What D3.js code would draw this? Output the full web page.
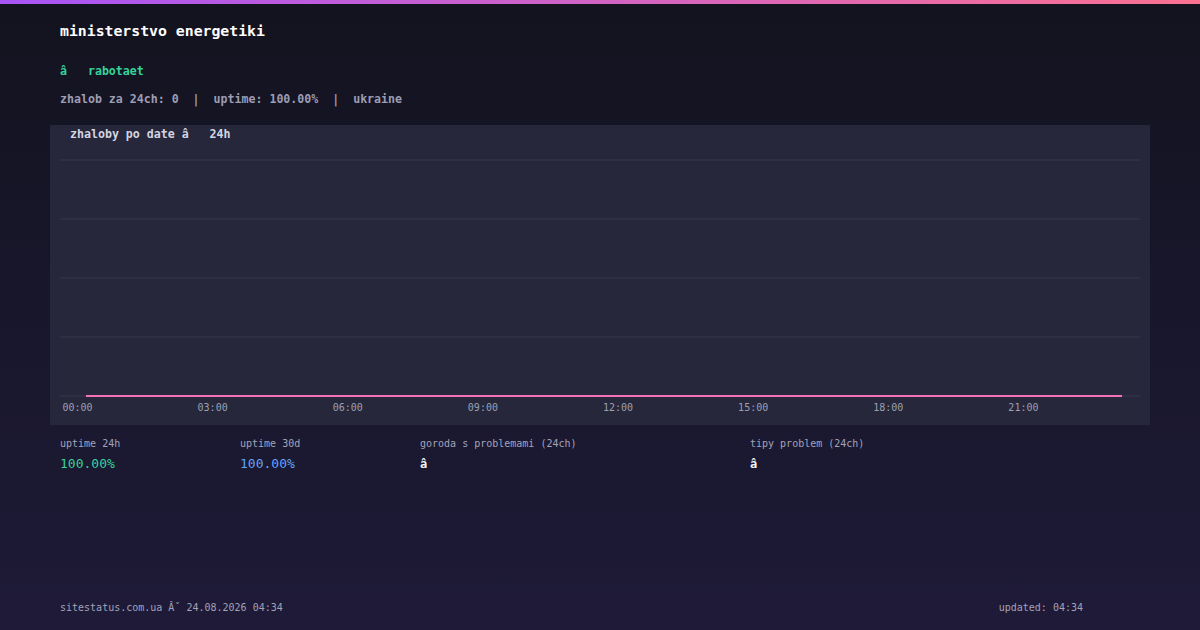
<!DOCTYPE html>
<html>
<head>
<meta charset="utf-8">
<script src="https://cdn.jsdelivr.net/npm/d3@7"></script>
<style>
  html, body { margin: 0; padding: 0; }
  body { width: 1200px; height: 630px; overflow: hidden; }
  text { font-family: "DejaVu Sans Mono", "Liberation Mono", monospace; white-space: pre; }
</style>
</head>
<body>
<svg id="chart" width="1200" height="630"></svg>
<script>
// complaints per hour, last 24h
var hours = ["00:00","01:00","02:00","03:00","04:00","05:00","06:00","07:00",
  "08:00","09:00","10:00","11:00","12:00","13:00","14:00","15:00",
  "16:00","17:00","18:00","19:00","20:00","21:00","22:00","23:00"];
var complaints = [0,0,0,0,0,0,0,0,0,0,0,0,0,0,0,0,0,0,0,0,0,0,0,0];
var yTicks = [0, 1, 2, 3, 4];

var stats = [
  {label: "uptime 24h", value: "100.00%", color: "#34d399", size: 13, weight: "normal", x: 60},
  {label: "uptime 30d", value: "100.00%", color: "#60a5fa", size: 13, weight: "normal", x: 240},
  {label: "goroda s problemami (24ch)", value: "â", color: "#f3f4f6", size: 12, weight: "bold", x: 420},
  {label: "tipy problem (24ch)", value: "â", color: "#f3f4f6", size: 12, weight: "bold", x: 750}
];

var svg = d3.select("#chart");
var defs = svg.append("defs");

var bg = defs.append("linearGradient").attr("id", "bg")
  .attr("x1", 0).attr("x2", 0).attr("y1", 0).attr("y2", 1);
bg.append("stop").attr("offset", "0%").attr("stop-color", "#13131f");
bg.append("stop").attr("offset", "100%").attr("stop-color", "#1e1a38");

var bar = defs.append("linearGradient").attr("id", "bar")
  .attr("x1", 0).attr("x2", 1).attr("y1", 0).attr("y2", 0);
bar.append("stop").attr("offset", "0%").attr("stop-color", "#a855f7");
bar.append("stop").attr("offset", "100%").attr("stop-color", "#fb7190");

svg.append("rect").attr("width", 1200).attr("height", 630).attr("fill", "url(#bg)");
svg.append("rect").attr("width", 1200).attr("height", 4).attr("fill", "url(#bar)");

// header
svg.append("text").attr("x", 60).attr("y", 36)
  .attr("fill", "#ffffff").attr("font-size", 14.8).attr("font-weight", "bold")
  .text("ministerstvo energetiki");
svg.append("text").attr("x", 60).attr("y", 75)
  .attr("fill", "#34d399").attr("font-size", 11.6).attr("font-weight", "bold")
  .text("â   rabotaet");
svg.append("text").attr("x", 60).attr("y", 103)
  .attr("fill", "#9d9db3").attr("font-size", 11.6).attr("font-weight", "bold")
  .text("zhalob za 24ch: 0  |  uptime: 100.00%  |  ukraine");

// chart panel
svg.append("rect").attr("x", 50).attr("y", 125).attr("width", 1100).attr("height", 300)
  .attr("fill", "#26273a");
svg.append("text").attr("x", 70).attr("y", 138)
  .attr("fill", "#d4d4e2").attr("font-size", 11.6).attr("font-weight", "bold")
  .text("zhaloby po date â   24h");

var x = d3.scalePoint().domain(hours).range([86, 1122]);
var y = d3.scaleLinear().domain([0, 4]).range([396, 160]);

var g = svg.append("g");

g.selectAll("line.grid").data(yTicks).enter().append("line")
  .attr("class", "grid")
  .attr("x1", 60).attr("x2", 1140)
  .attr("y1", function (d) { return y(d); })
  .attr("y2", function (d) { return y(d); })
  .attr("stroke", "#37384d").attr("stroke-width", 1);

var line = d3.line()
  .x(function (d, i) { return x(hours[i]); })
  .y(function (d) { return y(d); });

g.append("path").datum(complaints)
  .attr("d", line)
  .attr("fill", "none")
  .attr("stroke", "#f472b6")
  .attr("stroke-width", 2);

var xAxis = d3.axisBottom(x)
  .tickValues(hours.filter(function (d, i) { return i % 3 === 0; }))
  .tickSize(0).tickPadding(0);

var ax = g.append("g").attr("transform", "translate(0,407)").call(xAxis);
ax.select(".domain").remove();
ax.selectAll("text")
  .attr("dy", "0.35em").attr("dx", -9)
  .attr("fill", "#9ca0b4")
  .attr("font-size", 10)
  .attr("font-family", "DejaVu Sans Mono, monospace");

// stats row
var st = svg.selectAll("g.stat").data(stats).enter().append("g").attr("class", "stat");
st.append("text").attr("x", function (d) { return d.x; }).attr("y", 447)
  .attr("fill", "#a3a3b8").attr("font-size", 10)
  .text(function (d) { return d.label; });
st.append("text").attr("x", function (d) { return d.x; }).attr("y", 468)
  .attr("fill", function (d) { return d.color; })
  .attr("font-size", function (d) { return d.size; })
  .attr("font-weight", function (d) { return d.weight; })
  .text(function (d) { return d.value; });

// footer
svg.append("text").attr("x", 60).attr("y", 611)
  .attr("fill", "#a3a3b8").attr("font-size", 10)
  .text("sitestatus.com.ua Âˇ 24.08.2026 04:34");
svg.append("text").attr("x", 1083).attr("y", 611).attr("text-anchor", "end")
  .attr("fill", "#a3a3b8").attr("font-size", 10)
  .text("updated: 04:34");
</script>
</body>
</html>
